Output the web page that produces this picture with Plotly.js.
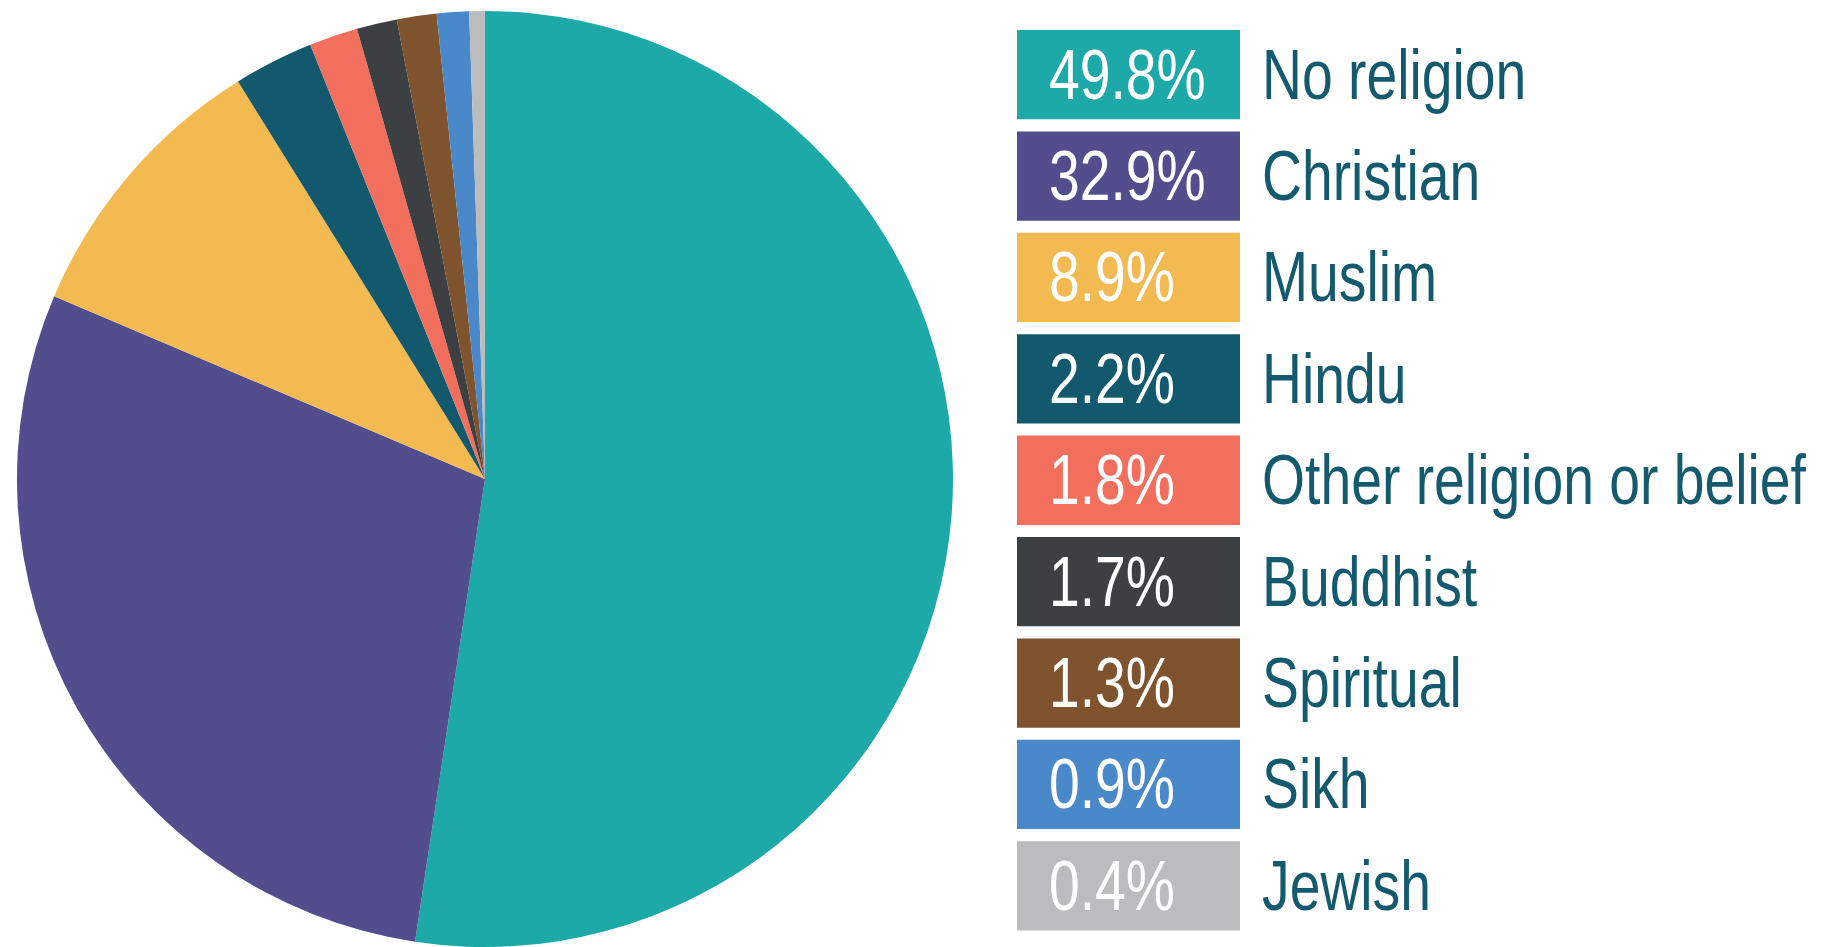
<!DOCTYPE html>
<html>
<head>
<meta charset="utf-8">
<script src="https://cdn.plot.ly/plotly-3.0.1.min.js"></script>
<style>
  html, body { margin: 0; padding: 0; background: #ffffff; }
  #chart { width: 1827px; height: 947px; }
</style>
</head>
<body>
<div id="chart"></div>
<script>
// Categories (legend order, clockwise from 12 o'clock)
const categories = ["No religion", "Christian", "Muslim", "Hindu", "Other religion or belief",
                    "Buddhist", "Spiritual", "Sikh", "Jewish"];
const sliceValues = [52.4, 29.0, 9.77, 2.76, 1.68, 1.39, 1.37, 1.11, 0.54];
// Percent labels shown in the legend boxes
const percentLabels = ["49.8%", "32.9%", "8.9%", "2.2%", "1.8%", "1.7%", "1.3%", "0.9%", "0.4%"];
const colors = ["#1CA9A7", "#524E8D", "#F3BA52", "#12596E", "#F26F5E",
                "#3C4043", "#7F532D", "#4A89C9", "#BBBCBE"];

const W = 1827, H = 947;
const FONT = "'Liberation Sans', Arial, sans-serif";
const FONT_SIZE = 70;
const CONDENSE = 0.79;   // horizontal squeeze to mimic a narrow typeface
const LABEL_COLOR = "#145A6E";

// Pie geometry (pixels)
const cx = 485, cy = 479, R = 468;

const trace = {
  type: "pie",
  labels: categories,
  values: sliceValues,
  marker: { colors: colors, line: { width: 0 } },
  sort: false,
  direction: "clockwise",
  rotation: 0,
  textinfo: "none",
  hoverinfo: "label",
  showlegend: false,
  domain: {
    x: [(cx - R) / W, (cx + R) / W],
    y: [1 - (cy + R) / H, 1 - (cy - R) / H]
  }
};

// Legend geometry (pixels)
const boxX0 = 1017, boxX1 = 1240, boxTop0 = 30, boxH = 89.3, pitch = 101.4;
const pctX = 1047, labelX = 1260;

const shapes = [];
const annotations = [];
categories.forEach((cat, i) => {
  const top = boxTop0 + pitch * i;
  const bot = top + boxH;
  shapes.push({
    type: "rect", xref: "paper", yref: "paper",
    x0: boxX0 / W, x1: boxX1 / W,
    y0: 1 - bot / H, y1: 1 - top / H,
    fillcolor: colors[i], line: { width: 0 }, layer: "above"
  });
  const mid = 1 - (top + boxH / 2) / H;
  annotations.push({
    xref: "paper", yref: "paper", x: pctX / W, y: mid,
    xanchor: "left", yanchor: "middle", showarrow: false,
    text: percentLabels[i],
    font: { family: FONT, size: FONT_SIZE, color: "#ffffff" }
  });
  annotations.push({
    xref: "paper", yref: "paper", x: labelX / W, y: mid,
    xanchor: "left", yanchor: "middle", showarrow: false,
    text: cat,
    font: { family: FONT, size: FONT_SIZE, color: LABEL_COLOR }
  });
});

const layout = {
  width: W, height: H,
  margin: { l: 0, r: 0, t: 0, b: 0, pad: 0 },
  paper_bgcolor: "#ffffff",
  plot_bgcolor: "#ffffff",
  showlegend: false,
  shapes: shapes,
  annotations: annotations
};

Plotly.newPlot("chart", [trace], layout, { displayModeBar: false, staticPlot: true }).then(() => {
  // Squeeze annotation text horizontally about its left edge (narrow-font look)
  document.querySelectorAll("#chart .annotation-text").forEach(t => {
    const b = t.getBBox();
    const x0 = b.x;
    t.setAttribute("transform",
      "translate(" + x0 + ",0) scale(" + CONDENSE + ",1) translate(" + (-x0) + ",0)");
  });
});
</script>
</body>
</html>
